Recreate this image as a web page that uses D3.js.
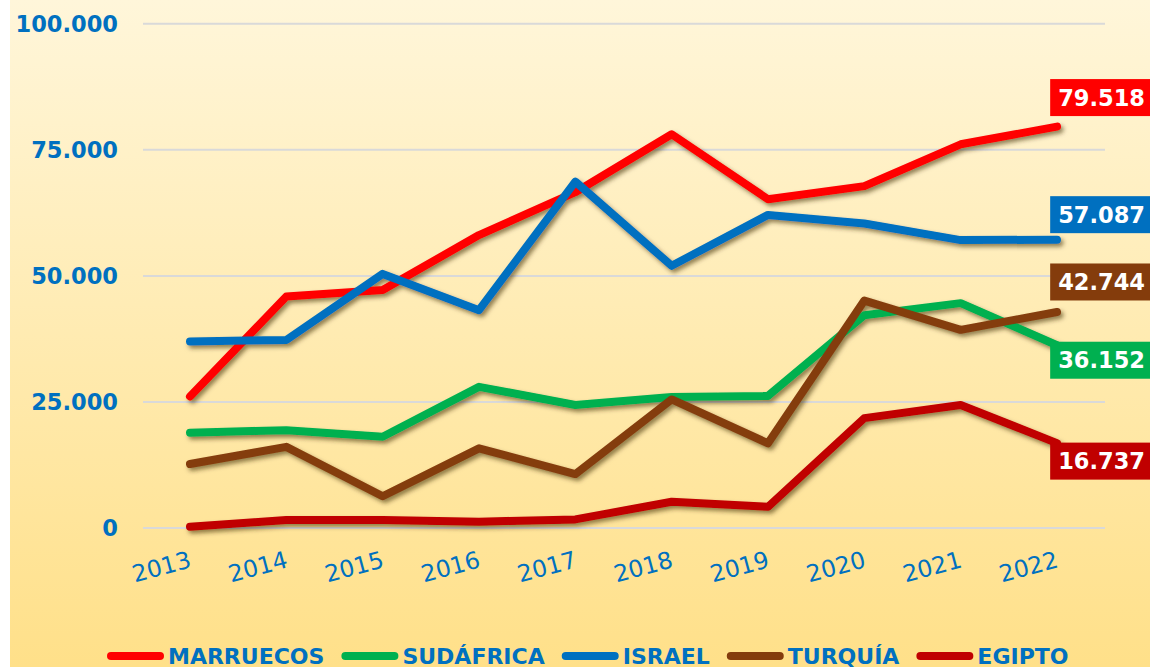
<!DOCTYPE html>
<html>
<head>
<meta charset="utf-8">
<script src="https://cdn.jsdelivr.net/npm/d3@7"></script>
<style>
  html, body { margin: 0; padding: 0; background: #ffffff; }
  svg { display: block; }
  text { font-family: "DejaVu Sans", sans-serif; }
</style>
</head>
<body>
<svg id="chart" width="1150" height="667"></svg>
<script>
// ---- data ----
const years = [2013, 2014, 2015, 2016, 2017, 2018, 2019, 2020, 2021, 2022];
const seriesNames = ["MARRUECOS", "SUDÁFRICA", "ISRAEL", "TURQUÍA", "EGIPTO"];
const marruecos = [26000, 45800, 47100, 58000, 66500, 78000, 65100, 67700, 76000, 79518];
const sudafrica = [18800, 19300, 18000, 27900, 24300, 25900, 26100, 42100, 44500, 36152];
const israel    = [36900, 37200, 50300, 43100, 68600, 51900, 62000, 60300, 57000, 57087];
const turquia   = [12600, 16000, 6200, 15700, 10600, 25400, 16700, 45000, 39200, 42744];
const egipto    = [150, 1500, 1500, 1150, 1600, 5100, 4100, 21700, 24300, 16737];
const yTicks = [0, 25000, 50000, 75000, 100000];
const yTickLabels = ["0", "25.000", "50.000", "75.000", "100.000"];
const endLabels = ["79.518", "36.152", "57.087", "42.744", "16.737"];

// ---- styles ----
const colors = ["#FF0000", "#00B050", "#0070C0", "#843C0C", "#C00000"];
const labelDy = [-29, 15, -25, -30, 18];
const textBlue = "#0070C0";

const values = [marruecos, sudafrica, israel, turquia, egipto];
const svg = d3.select("#chart");

// background gradient
const defs = svg.append("defs");
const grad = defs.append("linearGradient").attr("id", "bg").attr("x1", 0).attr("y1", 0).attr("x2", 0).attr("y2", 1);
grad.append("stop").attr("offset", "0%").attr("stop-color", "#FFF6DA");
grad.append("stop").attr("offset", "100%").attr("stop-color", "#FFE089");
const shadow = defs.append("filter").attr("id", "shadow").attr("x", "-10%").attr("y", "-10%").attr("width", "120%").attr("height", "130%");
shadow.append("feDropShadow").attr("dx", 2.5).attr("dy", 3).attr("stdDeviation", 2)
  .attr("flood-color", "#3a2a00").attr("flood-opacity", 0.55);

svg.append("rect").attr("x", 10).attr("y", 0).attr("width", 1140).attr("height", 667).attr("fill", "url(#bg)");

// scales
const x = d3.scalePoint().domain(years).range([190, 1057]);
const y = d3.scaleLinear().domain([0, 100000]).range([527.5, 23.3]);

// y axis with gridlines
const gridRight = 1105, gridLeft = 143;
const yAxis = d3.axisLeft(y).tickValues(yTicks)
  .tickFormat((d, i) => yTickLabels[i])
  .tickSize(gridRight - gridLeft).tickPadding(25);
const gy = svg.append("g").attr("transform", `translate(${gridRight},0)`).call(yAxis);
gy.select(".domain").remove();
gy.selectAll(".tick line").attr("stroke", "#D9D9D9").attr("stroke-width", 2);
gy.selectAll(".tick text").attr("fill", textBlue).attr("font-size", 22.5).attr("font-weight", "bold")
  .attr("font-family", "DejaVu Sans, sans-serif").attr("dy", "0.36em");

// x axis
const xAxis = d3.axisBottom(x).tickSize(0).tickPadding(0);
const gx = svg.append("g").attr("transform", "translate(0,0)").call(xAxis);
gx.select(".domain").remove();
gx.selectAll(".tick text")
  .attr("fill", textBlue).attr("font-size", 23.5).attr("font-family", "DejaVu Sans, sans-serif")
  .attr("text-anchor", "end").attr("y", 0).attr("dy", 0)
  .attr("transform", "translate(2,567) rotate(-15)");

// lines
const line = d3.line().x((d, i) => x(years[i])).y(d => y(d));
const gl = svg.append("g").attr("filter", "url(#shadow)");
values.forEach((vals, k) => {
  gl.append("path").datum(vals).attr("d", line)
    .attr("fill", "none").attr("stroke", colors[k]).attr("stroke-width", 8)
    .attr("stroke-linecap", "round").attr("stroke-linejoin", "round");
});

// end labels
const gLab = svg.append("g");
values.forEach((vals, k) => {
  const cy = y(vals[vals.length - 1]) + labelDy[k];
  const g = gLab.append("g");
  const r = g.append("rect").attr("fill", colors[k]);
  const t = g.append("text").attr("x", 1145).attr("y", cy).attr("dy", "0.36em")
    .attr("text-anchor", "end").attr("fill", "#ffffff").attr("font-size", 22.5)
    .attr("font-weight", "bold").text(endLabels[k]);
  const bb = t.node().getBBox();
  r.attr("x", bb.x - 8).attr("y", cy - 18.5).attr("width", 1150 - (bb.x - 8)).attr("height", 37);
});

// legend
const gLeg = svg.append("g");
let lx = 107;
const ly = 656;
seriesNames.forEach((name, k) => {
  gLeg.append("line").attr("x1", lx + 4).attr("x2", lx + 53).attr("y1", ly).attr("y2", ly)
    .attr("stroke", colors[k]).attr("stroke-width", 8).attr("stroke-linecap", "round");
  const t = gLeg.append("text").attr("x", lx + 61).attr("y", 663.5)
    .attr("fill", textBlue).attr("font-size", 22).attr("font-weight", "bold").text(name);
  lx = lx + 61 + t.node().getComputedTextLength() + 17;
});
</script>
</body>
</html>
